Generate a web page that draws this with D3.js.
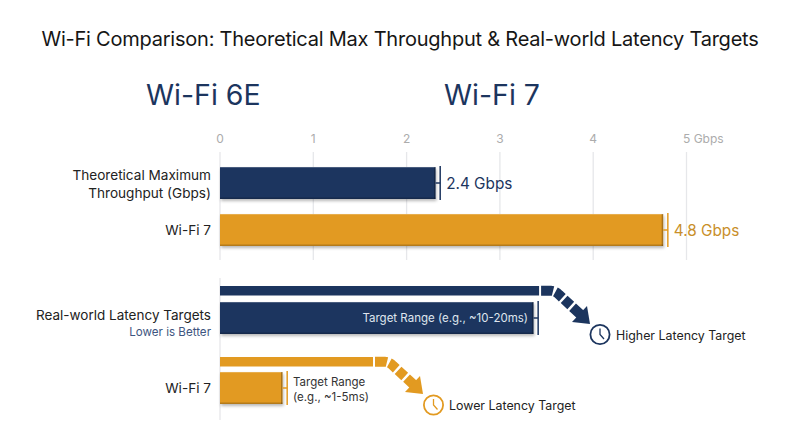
<!DOCTYPE html>
<html><head><meta charset="utf-8">
<script src="https://cdn.jsdelivr.net/npm/d3@7"></script>
<style>html,body{margin:0;background:#fff}svg{display:block}text{font-family:Inter,"Noto Sans",sans-serif}</style>
</head><body><div id="c"></div>
<script>
const TITLE="Wi-Fi Comparison: Theoretical Max Throughput & Real-world Latency Targets";
const headers=["Wi-Fi 6E","Wi-Fi 7"];
const ticks=[0,1,2,3,4,5];
const throughputBars=[2.31,4.75];
const throughputCaps=[2.36,4.8];
const throughputLabels=["2.4 Gbps","4.8 Gbps"];
const latencyBars=[3.36,0.67];
const latencyCaps=[3.41,0.72];
const latencyStrips=[3.42,1.64];
const navy="#1c355e",gold="#e29a21";
const W=800,H=447;
const x=d3.scaleLinear().domain([0,5]).range([220,686.5]);
const svg=d3.select("#c").append("svg").attr("width",W).attr("height",H);
const defs=svg.append("defs");
const f=defs.append("filter").attr("id","sh").attr("x","-5%").attr("y","-20%").attr("width","110%").attr("height","150%");
f.append("feDropShadow").attr("dx",1).attr("dy",2).attr("stdDeviation",1.5).attr("flood-color","#000").attr("flood-opacity",.28);
svg.append("text").attr("x",400).attr("y",45.5).attr("text-anchor","middle").attr("font-size",20).attr("letter-spacing",-0.23).attr("fill","#161616").text(TITLE);
svg.selectAll(".h").data(headers).join("text").attr("x",(d,i)=>[146,444][i]).attr("y",105).attr("font-size",28.5).attr("fill",navy).text(d=>d);
svg.selectAll(".g").data(ticks).join("line").attr("x1",d=>x(d)).attr("x2",d=>x(d)).attr("y1",152).attr("y2",260).attr("stroke","#e6e7ea").attr("stroke-width",1.3);
svg.append("line").attr("x1",x(0)).attr("x2",x(0)).attr("y1",278).attr("y2",420).attr("stroke","#e6e7ea").attr("stroke-width",1.3);
svg.selectAll(".t").data(ticks).join("text").attr("x",d=>x(d)).attr("y",143).attr("text-anchor",d=>d==5?"start":"middle").attr("dx",d=>d==5?-3.5:0).attr("font-size",12).attr("fill","#acacac").text(d=>d==5?"5 Gbps":d);
function bar(v,y,h,c){
  const g=svg.append("g");
  g.append("rect").attr("x",x(0)).attr("y",y).attr("width",x(v)-x(0)).attr("height",h).attr("fill",c).attr("filter","url(#sh)");
  g.append("rect").attr("x",x(0)).attr("y",y).attr("width",x(v)-x(0)).attr("height",1).attr("fill","#fff").attr("opacity",.2);
  g.append("rect").attr("x",x(0)).attr("y",y+h-1.5).attr("width",x(v)-x(0)).attr("height",1.5).attr("fill","#000").attr("opacity",.2);
  g.append("rect").attr("x",x(v)-1.5).attr("y",y).attr("width",1.5).attr("height",h).attr("fill","#000").attr("opacity",.25);
}
function cap(b,v,y,h,c){
  svg.append("line").attr("x1",x(v)).attr("x2",x(v)).attr("y1",y-1).attr("y2",y+h+1).attr("stroke",c).attr("stroke-width",1.5);
  svg.append("line").attr("x1",x(b)).attr("x2",x(v)).attr("y1",y+h/2).attr("y2",y+h/2).attr("stroke",c).attr("stroke-width",1.5);
}
const rowY=[167,214], rowC=[navy,gold], rowH=32;
throughputBars.forEach((v,i)=>{bar(v,rowY[i],rowH,rowC[i]);cap(v,throughputCaps[i],rowY[i],rowH,rowC[i]);
  svg.append("text").attr("x",x(throughputCaps[i])+6).attr("y",rowY[i]+22).attr("font-size",15.3).attr("fill",i?"#c98f2a":navy).text(throughputLabels[i]);});
const latY=[302,372], stripY=[286,357], stripH=9.5;
latencyBars.forEach((v,i)=>{bar(v,latY[i],rowH,rowC[i]);cap(v,latencyCaps[i],latY[i],rowH,rowC[i]);
  svg.append("rect").attr("x",x(0)).attr("y",stripY[i]).attr("width",x(latencyStrips[i])-x(0)).attr("height",stripH).attr("fill",rowC[i]);});
function lab(t,y,fs,c){svg.append("text").attr("x",211).attr("y",y).attr("text-anchor","end").attr("font-size",fs).attr("fill",c||"#222").text(t);}
lab("Theoretical Maximum",180,13.6);lab("Throughput (Gbps)",198,13.6);lab("Wi-Fi 7",235,13.6);
lab("Real-world Latency Targets",320,13.5);lab("Lower is Better",336,11.6,"#3d5580");lab("Wi-Fi 7",393,13.6);
svg.append("text").attr("x",528).attr("y",322).attr("text-anchor","end").attr("font-size",11.5).attr("fill","#dfe5ee").text("Target Range (e.g., ~10-20ms)");
svg.append("text").attr("x",293).attr("y",386).attr("font-size",11.5).attr("fill","#333").text("Target Range");
svg.append("text").attr("x",293).attr("y",401).attr("font-size",11.5).attr("fill","#333").text("(e.g., ~1-5ms)");
function arrow(sx,sy,c,tx,ty){
  const p=d3.path();p.moveTo(sx+2,sy);p.lineTo(sx+12,sy);p.quadraticCurveTo(sx+16,sy,sx+20,sy+4);p.lineTo(tx-9,ty-9);
  svg.append("path").attr("d",p).attr("fill","none").attr("stroke",c).attr("stroke-width",stripH+.5).attr("stroke-dasharray","12,2.5,9,2.5,9,2.5,40");
  const hp=d3.path();hp.moveTo(tx,ty);hp.lineTo(tx-18,ty-2);hp.lineTo(tx-3,ty-18);hp.closePath();
  svg.append("path").attr("d",hp).attr("fill",c);
}
arrow(x(latencyStrips[0]),stripY[0]+stripH/2,navy,590,324);
arrow(x(latencyStrips[1]),stripY[1]+stripH/2,gold,423,394);
function clock(cx,cy,c){
  const g=svg.append("g").attr("fill","none").attr("stroke",c);
  g.append("circle").attr("cx",cx).attr("cy",cy).attr("r",9.6).attr("stroke-width",1.8);
  g.append("path").attr("d",`M${cx},${cy-6}L${cx},${cy}L${cx+4},${cy+4.5}`).attr("stroke-width",1.3);
}
clock(600,334.5,navy);clock(433.5,405,gold);
svg.append("text").attr("x",616).attr("y",339.5).attr("font-size",12.4).attr("fill","#222").text("Higher Latency Target");
svg.append("text").attr("x",449).attr("y",410).attr("font-size",12.4).attr("fill","#222").text("Lower Latency Target");
</script></body></html>
